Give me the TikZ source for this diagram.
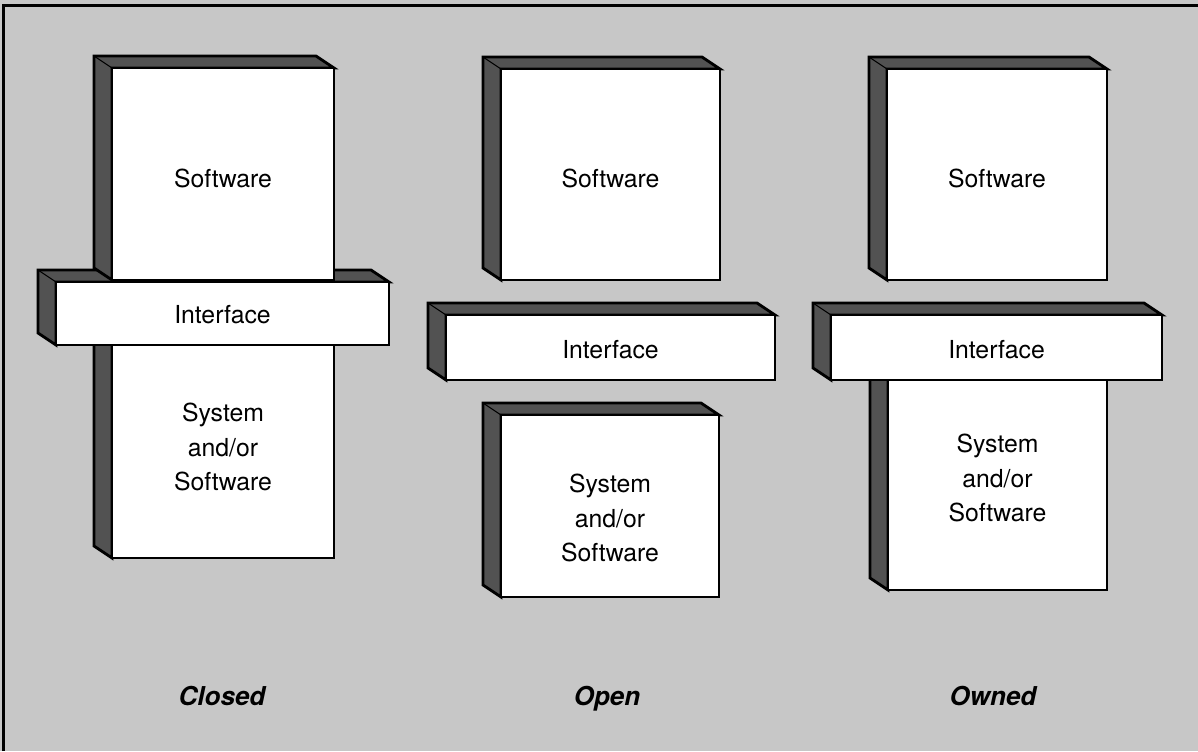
\documentclass[tikz,border=0pt]{standalone}
\usepackage{fontspec}
\setmainfont{TeX Gyre Heros}

\begin{document}
\begin{tikzpicture}[x=.5pt,y=-.5pt,
    front/.style={fill=white,draw=black,line width=1.4pt,line join=miter},
    depth/.style={fill=black!68,draw=black,line width=1.4pt,line join=miter},
    crease/.style={black,line width=.5pt},
    boxtext/.style={align=center,inner sep=0pt,font=\fontsize{12.4}{17.3}\selectfont},
    caption/.style={inner sep=0pt,anchor=base,font=\fontsize{13}{15}\selectfont\bfseries\itshape}]
    % Hintergrund und Rahmen
    \fill[black!22] (0,0) rectangle (1198,751);
    \useasboundingbox (0,0) rectangle (1198,751);
    \draw[line width=1.5pt] (3,751) -- (3,5) -- (1198,5);
    % Kloetze: Name/links/oben/rechts/unten/Textzeile/Text
    \foreach \nm/\xa/\ya/\xb/\yb/\ty/\txt in {
        csys/112/340/334/558/447/{System\\and/or\\Software},
        cif/56/282/389/345/315/Interface,
        csoft/112/68/334/280/178/Software,
        osoft/501/69/720/280/178/Software,
        oif/446/315/775/380/350/Interface,
        osys/501/415/719/597/518/{System\\and/or\\Software},
        wsys/888/375/1107/590/478/{System\\and/or\\Software},
        wif/831/315/1162/380/350/Interface,
        wsoft/887/69/1107/280/178/Software}{
      \filldraw[depth] (\xa,\yb) -- ++(-18,-12) -- (\xa-18,\ya-12)
        -- (\xb-18,\ya-12) -- (\xb,\ya) -- (\xa,\ya) -- cycle;
      \draw[crease] (\xa,\ya) -- ++(-18,-12);
      \filldraw[front] (\xa,\ya) rectangle (\xb,\yb);
      \node[boxtext] (\nm) at ({(\xa+\xb)/2},\ty) {\txt};
    }
    \node[caption] (closed) at (222,705) {Closed};
    \node[caption] (open) at (607,705) {Open};
    \node[caption] (owned) at (993,705) {Owned};
\end{tikzpicture}
\end{document}
